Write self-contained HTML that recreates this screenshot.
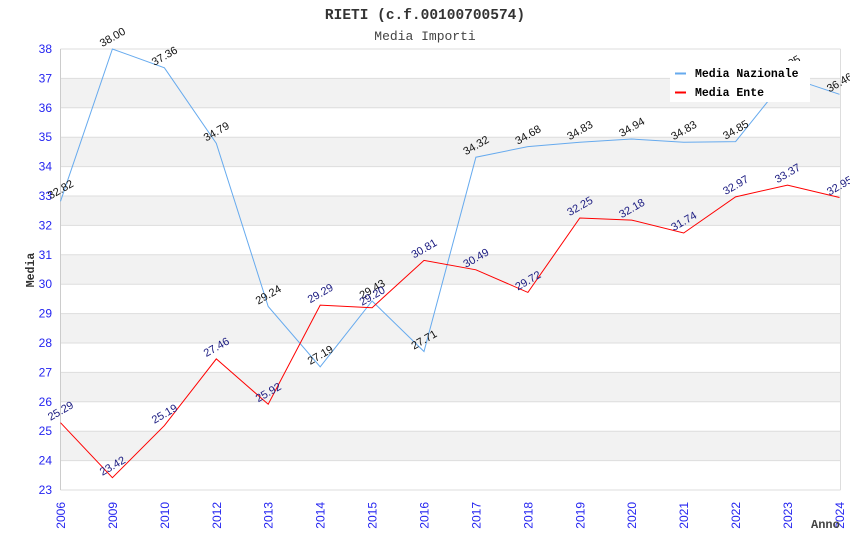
<!DOCTYPE html>
<html><head><meta charset="utf-8"><style>
html,body{margin:0;padding:0;background:#fff;}
svg{display:block;}
.yt{font-family:"Liberation Sans",sans-serif;font-size:12px;fill:#2424f0;text-anchor:end;}
.xt{font-family:"Liberation Sans",sans-serif;font-size:12px;fill:#2424f0;text-anchor:end;}
.ln{font-family:"Liberation Sans",sans-serif;font-size:11px;fill:#111;text-anchor:middle;}
.le{font-family:"Liberation Sans",sans-serif;font-size:11px;fill:#1a1a80;text-anchor:middle;}
.mono{font-family:"Liberation Mono",monospace;}
</style></head><body>
<svg width="850" height="550" viewBox="0 0 850 550" xmlns="http://www.w3.org/2000/svg">
<rect width="850" height="550" fill="#fff"/>
<g fill="#f2f2f2">
<rect x="60.5" y="78.4" width="780" height="29.4"/>
<rect x="60.5" y="137.2" width="780" height="29.4"/>
<rect x="60.5" y="196" width="780" height="29.4"/>
<rect x="60.5" y="254.8" width="780" height="29.4"/>
<rect x="60.5" y="313.6" width="780" height="29.4"/>
<rect x="60.5" y="372.4" width="780" height="29.4"/>
<rect x="60.5" y="431.2" width="780" height="29.4"/>
</g>
<g stroke="#dddddd" stroke-width="1">
<line x1="60.5" y1="49" x2="840.5" y2="49"/>
<line x1="60.5" y1="78.4" x2="840.5" y2="78.4"/>
<line x1="60.5" y1="107.8" x2="840.5" y2="107.8"/>
<line x1="60.5" y1="137.2" x2="840.5" y2="137.2"/>
<line x1="60.5" y1="166.6" x2="840.5" y2="166.6"/>
<line x1="60.5" y1="196" x2="840.5" y2="196"/>
<line x1="60.5" y1="225.4" x2="840.5" y2="225.4"/>
<line x1="60.5" y1="254.8" x2="840.5" y2="254.8"/>
<line x1="60.5" y1="284.2" x2="840.5" y2="284.2"/>
<line x1="60.5" y1="313.6" x2="840.5" y2="313.6"/>
<line x1="60.5" y1="343" x2="840.5" y2="343"/>
<line x1="60.5" y1="372.4" x2="840.5" y2="372.4"/>
<line x1="60.5" y1="401.8" x2="840.5" y2="401.8"/>
<line x1="60.5" y1="431.2" x2="840.5" y2="431.2"/>
<line x1="60.5" y1="460.6" x2="840.5" y2="460.6"/>
<line x1="60.5" y1="490" x2="840.5" y2="490"/>
</g>
<line x1="60.5" y1="49" x2="60.5" y2="490" stroke="#cccccc"/>
<line x1="840.5" y1="49" x2="840.5" y2="490" stroke="#dddddd"/>
<g class="yt">
<text x="52" y="53">38</text><text x="52" y="82.4">37</text><text x="52" y="111.8">36</text>
<text x="52" y="141.2">35</text><text x="52" y="170.6">34</text><text x="52" y="200">33</text>
<text x="52" y="229.4">32</text><text x="52" y="258.8">31</text><text x="52" y="288.2">30</text>
<text x="52" y="317.6">29</text><text x="52" y="347">28</text><text x="52" y="376.4">27</text>
<text x="52" y="405.8">26</text><text x="52" y="435.2">25</text><text x="52" y="464.6">24</text>
<text x="52" y="494">23</text>
</g>
<g class="xt">
<text transform="translate(65,502) rotate(-90)">2006</text>
<text transform="translate(116.9,502) rotate(-90)">2009</text>
<text transform="translate(168.9,502) rotate(-90)">2010</text>
<text transform="translate(220.8,502) rotate(-90)">2012</text>
<text transform="translate(272.7,502) rotate(-90)">2013</text>
<text transform="translate(324.7,502) rotate(-90)">2014</text>
<text transform="translate(376.6,502) rotate(-90)">2015</text>
<text transform="translate(428.5,502) rotate(-90)">2016</text>
<text transform="translate(480.4,502) rotate(-90)">2017</text>
<text transform="translate(532.4,502) rotate(-90)">2018</text>
<text transform="translate(584.3,502) rotate(-90)">2019</text>
<text transform="translate(636.2,502) rotate(-90)">2020</text>
<text transform="translate(688.2,502) rotate(-90)">2021</text>
<text transform="translate(740.1,502) rotate(-90)">2022</text>
<text transform="translate(792,502) rotate(-90)">2023</text>
<text transform="translate(844,502) rotate(-90)">2024</text>
</g>
<text x="425" y="19" class="mono" font-size="14.5" font-weight="bold" fill="#333" text-anchor="middle">RIETI (c.f.00100700574)</text>
<text x="425" y="40" class="mono" font-size="13" fill="#444" text-anchor="middle">Media Importi</text>
<text transform="translate(34,270) rotate(-90)" class="mono" font-size="11.5" font-weight="bold" fill="#333" text-anchor="middle">Media</text>
<text x="811" y="528" class="mono" font-size="12" font-weight="bold" fill="#444">Anno</text>
<polyline fill="none" stroke="#66aaee" stroke-width="1" points="60.5,201.3 112.4,49 164.4,67.8 216.3,143.4 268.2,306.5 320.2,366.8 372.1,301 424,351.5 475.9,157.2 527.9,146.6 579.8,142.2 631.7,139 683.7,142.2 735.6,141.6 787.5,76.9 839.5,94.3"/>
<polyline fill="none" stroke="#ff0000" stroke-width="1" points="60.5,422.7 112.4,477.7 164.4,425.6 216.3,358.9 268.2,404.2 320.2,305.1 372.1,307.7 424,260.4 475.9,269.8 527.9,292.4 579.8,218 631.7,220.1 683.7,233 735.6,196.9 787.5,185.1 839.5,197.5"/>
<g class="ln">
<text transform="translate(60.5,189.3) rotate(-30)" dy="0.35em">32.82</text>
<text transform="translate(112.4,37) rotate(-30)" dy="0.35em">38.00</text>
<text transform="translate(164.4,55.8) rotate(-30)" dy="0.35em">37.36</text>
<text transform="translate(216.3,131.4) rotate(-30)" dy="0.35em">34.79</text>
<text transform="translate(268.2,294.5) rotate(-30)" dy="0.35em">29.24</text>
<text transform="translate(320.2,354.8) rotate(-30)" dy="0.35em">27.19</text>
<text transform="translate(372.1,289) rotate(-30)" dy="0.35em">29.43</text>
<text transform="translate(424,339.5) rotate(-30)" dy="0.35em">27.71</text>
<text transform="translate(475.9,145.2) rotate(-30)" dy="0.35em">34.32</text>
<text transform="translate(527.9,134.6) rotate(-30)" dy="0.35em">34.68</text>
<text transform="translate(579.8,130.2) rotate(-30)" dy="0.35em">34.83</text>
<text transform="translate(631.7,127) rotate(-30)" dy="0.35em">34.94</text>
<text transform="translate(683.7,130.2) rotate(-30)" dy="0.35em">34.83</text>
<text transform="translate(735.6,129.6) rotate(-30)" dy="0.35em">34.85</text>
<text transform="translate(787.5,64.9) rotate(-30)" dy="0.35em">37.05</text>
<text transform="translate(839.5,82.3) rotate(-30)" dy="0.35em">36.46</text>
</g>
<g class="le">
<text transform="translate(60.5,410.7) rotate(-30)" dy="0.35em">25.29</text>
<text transform="translate(112.4,465.7) rotate(-30)" dy="0.35em">23.42</text>
<text transform="translate(164.4,413.6) rotate(-30)" dy="0.35em">25.19</text>
<text transform="translate(216.3,346.9) rotate(-30)" dy="0.35em">27.46</text>
<text transform="translate(268.2,392.2) rotate(-30)" dy="0.35em">25.92</text>
<text transform="translate(320.2,293.1) rotate(-30)" dy="0.35em">29.29</text>
<text transform="translate(372.1,295.7) rotate(-30)" dy="0.35em">29.20</text>
<text transform="translate(424,248.4) rotate(-30)" dy="0.35em">30.81</text>
<text transform="translate(475.9,257.8) rotate(-30)" dy="0.35em">30.49</text>
<text transform="translate(527.9,280.4) rotate(-30)" dy="0.35em">29.72</text>
<text transform="translate(579.8,206) rotate(-30)" dy="0.35em">32.25</text>
<text transform="translate(631.7,208.1) rotate(-30)" dy="0.35em">32.18</text>
<text transform="translate(683.7,221) rotate(-30)" dy="0.35em">31.74</text>
<text transform="translate(735.6,184.9) rotate(-30)" dy="0.35em">32.97</text>
<text transform="translate(787.5,173.1) rotate(-30)" dy="0.35em">33.37</text>
<text transform="translate(839.5,185.5) rotate(-30)" dy="0.35em">32.95</text>
</g>
<rect x="670" y="61" width="140" height="41" fill="#ffffff"/>
<line x1="675" y1="73.5" x2="686" y2="73.5" stroke="#66aaee" stroke-width="2"/>
<line x1="675" y1="92.5" x2="686" y2="92.5" stroke="#ff0000" stroke-width="2"/>
<text x="695" y="77" class="mono" font-size="11.5" font-weight="bold" fill="#000">Media Nazionale</text>
<text x="695" y="96" class="mono" font-size="11.5" font-weight="bold" fill="#000">Media Ente</text>
</svg>
</body></html>
